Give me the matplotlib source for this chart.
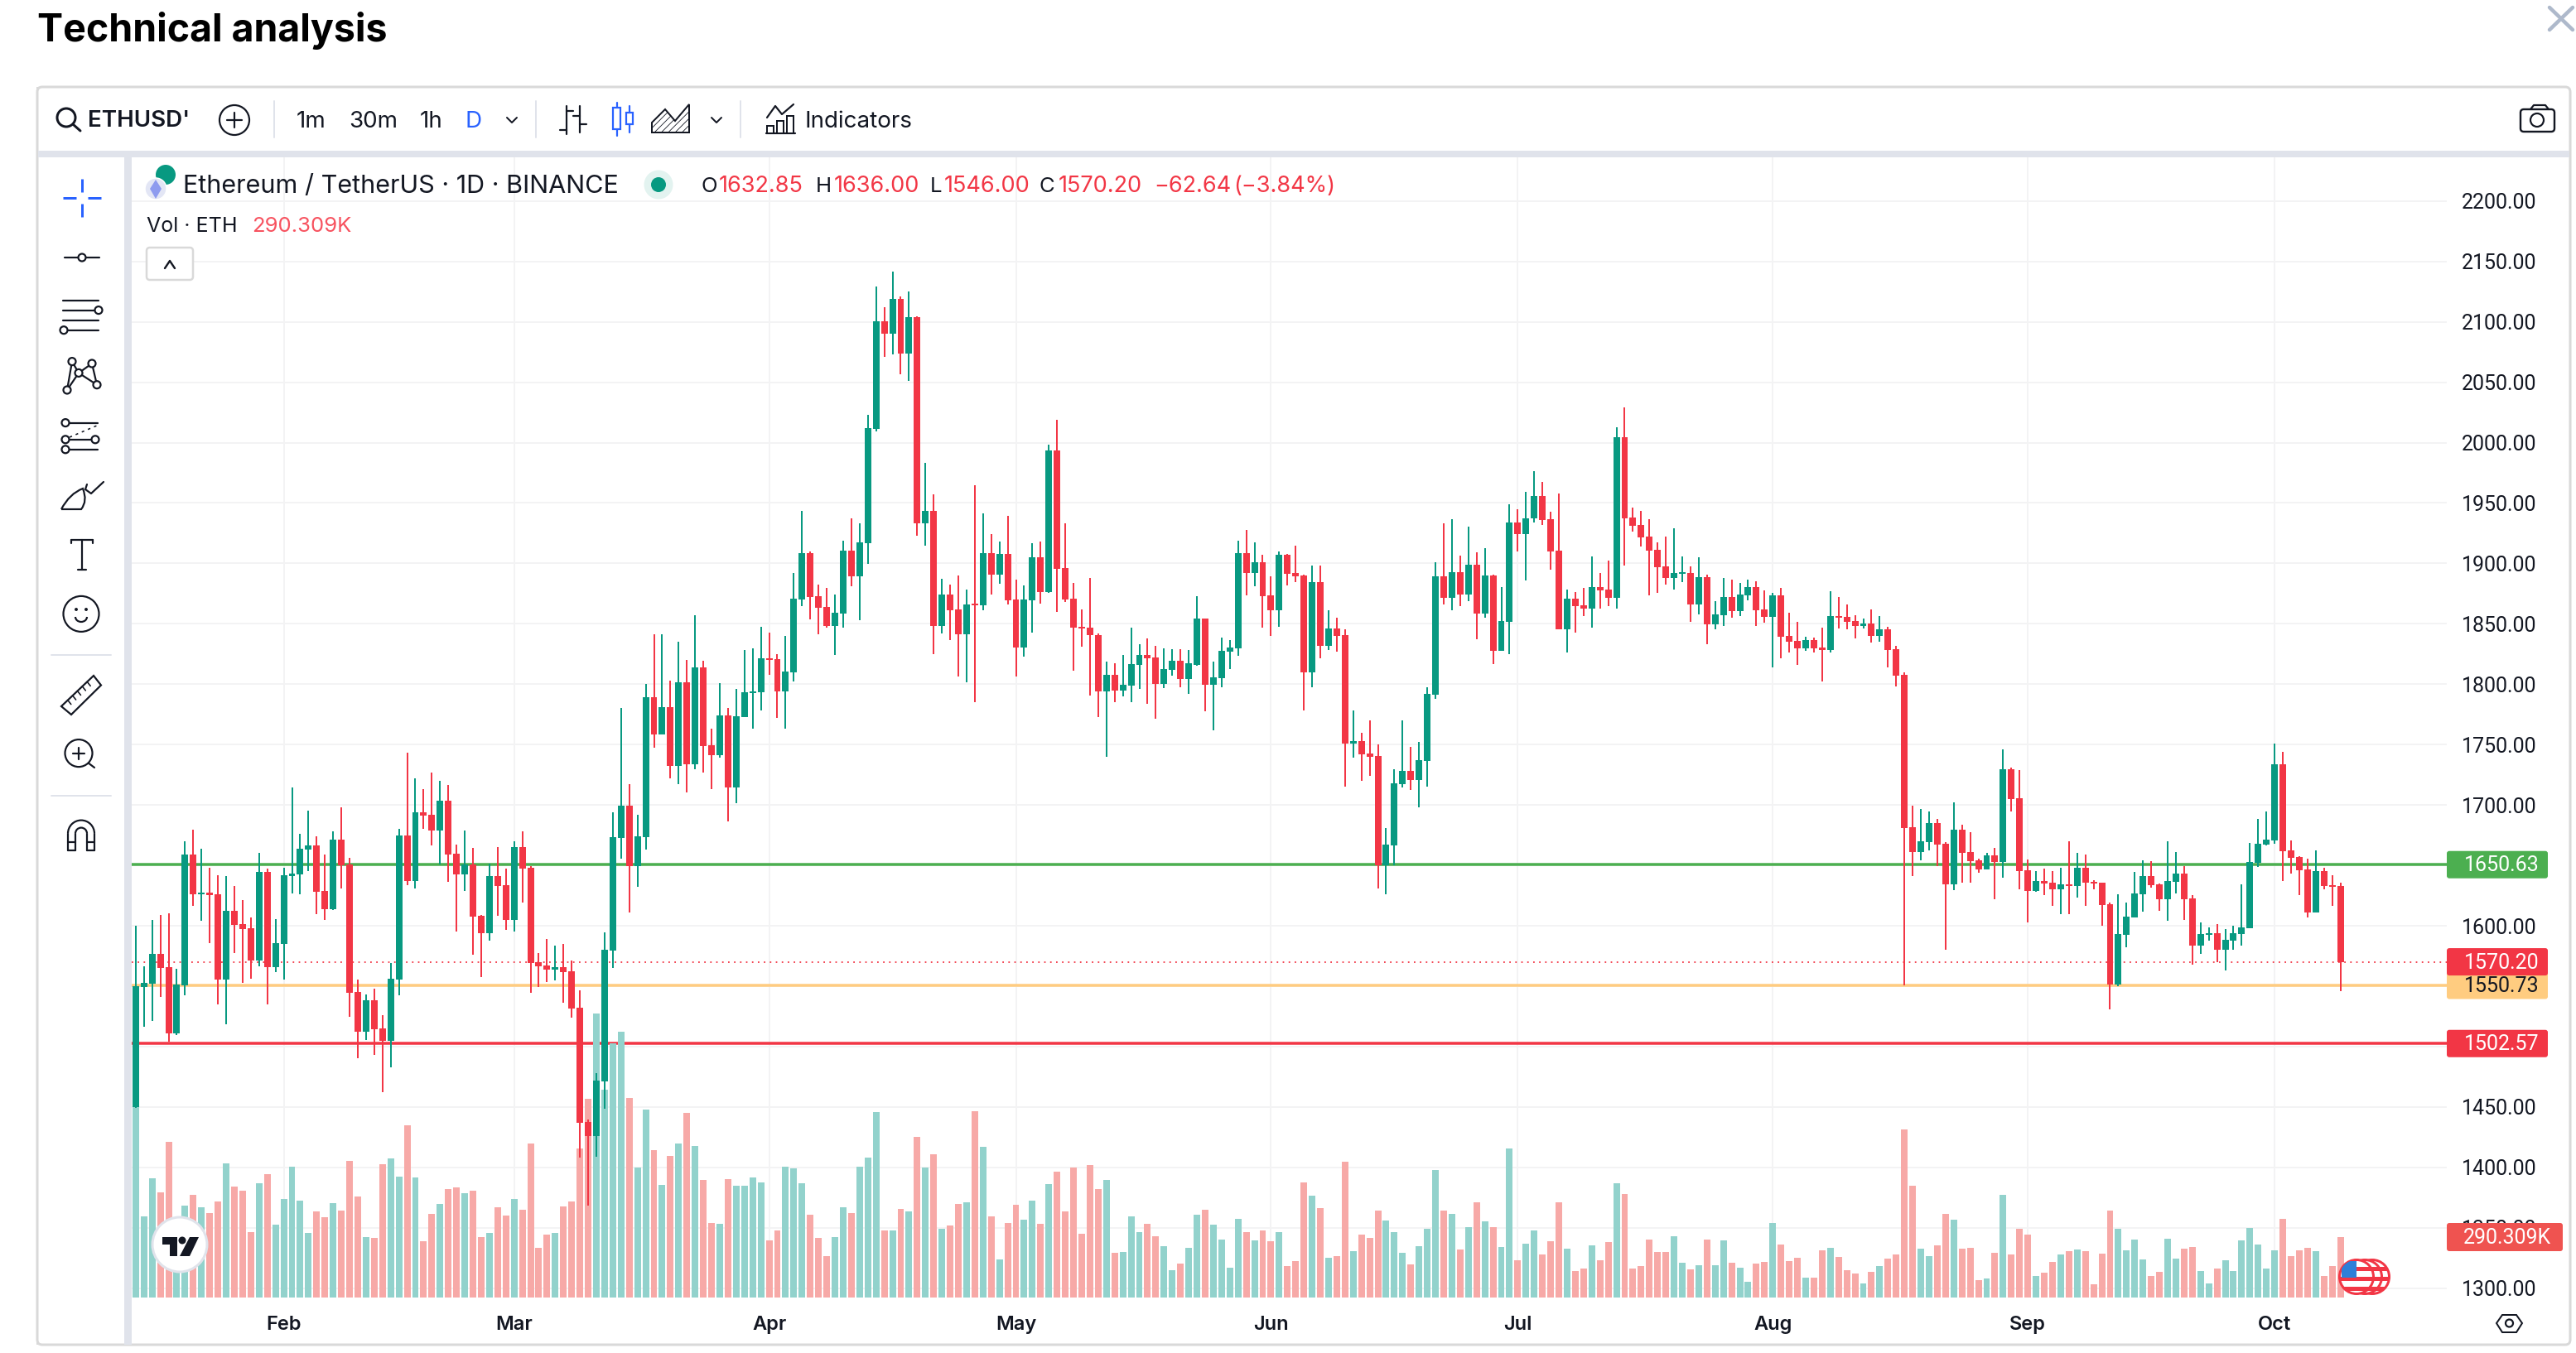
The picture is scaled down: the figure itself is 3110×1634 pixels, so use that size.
import numpy as np
import pandas as pd
import matplotlib
matplotlib.use("Agg")
import matplotlib.pyplot as plt
from matplotlib.patches import Circle, Rectangle, Polygon, FancyBboxPatch, Arc, PathPatch
from matplotlib.path import Path

W, H = 3110, 1634
plt.rcParams['font.family'] = ['Inter', 'DejaVu Sans']

# ---------- data ----------
direction = ("GGGRRGGRGR" "RGRRRGRGGG" "GGRRGRRRGR" "RGGRGRRGRR" "GRRGRRGRRR" "RGRRRRGGGG"
             "RGGRGRGRGR" "RGRGGGGRRG" "GGRRRGGRGG" "GRGRGRGRGR" "RGRGRGRRGG" "RGRRRRRRGR"
             "GGGRRGGRGG" "RGGGGRGRRG" "RRRGRGRRGR" "RRGGGRGGGR" "GRGRGRGGRG" "GRRRGRRGRR"
             "GRRRRRRGGR" "GRGGRGGRRG" "RRRGRRGRRR" "GRGRRRRGGR" "RGRRRGRGRR" "RGRRGRGRRR"
             "RGGGGRRGGR" "RGGRGGGGGG" "GRRRRGRRR")
highs = [1600.1,1566.5,1604.9,1609,1610.3,1564.4,1670,1679.6,1663.8,1648,
 1641.9,1641.2,1633,1621.3,1606.9,1660.4,1647.4,1605.5,1648,1714.5,
 1676.2,1695.3,1674.1,1659,1678.2,1698.1,1656.3,1555.5,1543.2,1548,
 1526,1569.2,1680.3,1743.3,1722.1,1713.2,1726.9,1720,1716.6,1667.2,
 1678.9,1664.5,1609,1651.5,1665.2,1647.4,1670,1678.2,1649.4,1577.4,
 1589.1,1583.6,1585,1571.3,1546.6,1439.6,1478,1594.6,1694,1780.3,
 1717.3,1691.9,1800.2,1841.2,1841.2,1803,1835.1,1820.1,1857.1,1819.2,
 1763.2,1800.8,1780.3,1795.9,1828.4,1829.6,1847.4,1842.8,1824.7,1840,
 1892,1943.4,1909.8,1882.5,1879.8,1874.3,1918.6,1937.3,1933,2023,
 2129.2,2112,2141.4,2120.9,2125.2,2104.4,1983.2,1957.2,1887.1,1882.5,
 1889.9,1878.3,1964.6,1941.3,1924.2,1918,1939.2,1886.5,1881.6,1916.8,
 1918,1998.2,2018.7,1933,1883.8,1861.8,1887.9,1841.9,1818.6,1817.2,
 1824,1846.7,1833.1,1837.9,1831.7,1829.7,1828.8,1828.8,1828.3,1872.9,
 1854.4,1818.6,1838.5,1836.5,1918.6,1927.7,1917.2,1907,1889.4,1909.8,
 1908.1,1914.7,1890.5,1898.2,1898.2,1861.2,1855,1845.3,1778.3,1759.8,
 1770,1750.1,1680.8,1729.7,1770,1748.1,1752.1,1797.3,1901,1933.1,
 1936.5,1906.4,1930.3,1909.3,1912.7,1890.5,1880.3,1948.8,1944.8,1959.3,
 1976.3,1967.5,1942.8,1957.9,1878.3,1876.3,1879.8,1905.7,1892.1,1902.3,
 2012.7,2029.3,1946.1,1943.5,1936.7,1917.5,1922.2,1929.1,1905.7,1897.6,
 1905.2,1890.8,1868.7,1887.9,1886.6,1884,1886.6,1885.3,1877.7,1875.6,
 1879.8,1859.3,1851.7,1839.4,1838.6,1846.7,1876.9,1872.1,1866.1,1857.2,
 1854.3,1861.9,1856.4,1847.5,1831.8,1809.7,1699.6,1696.7,1694.6,1688.5,
 1669.3,1702.1,1683.6,1677.5,1655.5,1660.3,1664.4,1746,1731,1728.9,
 1654.8,1645.2,1647.3,1645.2,1648,1669.9,1660.3,1659,1637.7,1635.6,
 1619.2,1626,1619.2,1644.6,1654.1,1653.5,1634.9,1669.9,1661,1649.6,
 1625.4,1602.7,1598.6,1601.4,1597.2,1600,1634.3,1668.5,1688.4,1694.6,
 1750.8,1743.9,1670.6,1657.6,1655.5,1662.4,1648,1641.8,1636]
tops = [1550,1552.8,1576.8,1576.8,1565.8,1551.4,1659,1659,1627.5,1627.5,
 1626.1,1612.4,1612.4,1601.4,1598,1644.6,1644.6,1585.7,1641.9,1643.2,
 1663.8,1666.6,1666.6,1628.9,1671.4,1671.4,1650.8,1545.2,1538.4,1538.4,
 1515.1,1556.2,1674.8,1674.8,1694,1694,1691.9,1703.6,1703.6,1659.7,
 1650.8,1650.8,1608.3,1641.2,1641.2,1633.6,1665.2,1665.2,1648,1569.9,
 1567.2,1565.8,1565.8,1562.4,1532.2,1437.6,1471.9,1580.2,1673.4,1699.4,
 1699.4,1674.1,1789.2,1789.2,1780.9,1780.9,1801.4,1801.4,1814,1814,
 1749.4,1774.2,1774.2,1773.3,1793.2,1794.1,1821.3,1821.3,1820.7,1810.3,
 1870.6,1908.6,1908.6,1872.7,1863.9,1859,1910.4,1910.4,1917.4,2012,
 2100.4,2100.4,2118.8,2118.8,2103.8,2103.8,1943.4,1943.4,1874.3,1874.3,
 1861.7,1866,1866.3,1908.6,1908.6,1907.6,1907.6,1870,1870,1904.9,
 1904.9,1993.3,1993.3,1896,1870.6,1847.3,1846.7,1840.5,1807.8,1807.8,
 1799.6,1816.6,1824,1824,1822,1812.3,1819.5,1819.5,1817.2,1854.4,
 1854.4,1805.5,1827.4,1830.2,1908.4,1908.4,1901,1901,1873.5,1907,
 1907,1891.9,1889.9,1884.5,1884.5,1846.2,1846.2,1840.5,1753,1753,
 1742.4,1740.4,1667.1,1717.7,1728.2,1728.2,1737,1791.9,1889.4,1889.4,
 1892.8,1892.8,1898.7,1898.7,1889.9,1889.9,1852.1,1933.7,1933.7,1937.1,
 1955.9,1955.9,1936.5,1910.4,1870.7,1870.8,1865.3,1880.5,1880.5,1878.4,
 2004.6,2004.6,1938,1932,1922.3,1911.2,1897.6,1892.1,1892.6,1892.1,
 1888.7,1888.7,1857.7,1872.1,1872.1,1874.2,1880.5,1880.5,1861.9,1873.5,
 1873.5,1839.9,1836,1836.5,1836.5,1830.4,1856.4,1856.4,1855.6,1852.2,
 1850.4,1850.4,1845.4,1845.4,1829.1,1807.9,1681.7,1669.9,1685.1,1685.1,
 1667.9,1679.5,1679.5,1661,1654.2,1658.3,1658.3,1729.6,1729.6,1705.6,
 1645.9,1637,1637,1635.6,1634.3,1634.3,1648,1648,1636.3,1635.6,
 1617.8,1593.1,1607.6,1626.7,1641.1,1641.1,1634.3,1637,1643.2,1643.2,
 1622.6,1593.1,1593.8,1593.8,1588.3,1593.8,1598.6,1652.8,1667.9,1671.3,
 1733.7,1733.7,1662.4,1656.9,1646.6,1645.2,1645.2,1633.6,1632.85]
bottoms = [1450,1549.3,1552.1,1565.1,1510.9,1510.9,1550.7,1626.1,1626.1,1625.4,
 1555.5,1555.5,1600.7,1597.3,1571.3,1571.3,1565.8,1565.8,1585,1641.2,
 1642.6,1663.1,1628.2,1613.8,1613.8,1650.1,1544.5,1512.3,1512.3,1514.4,
 1504.8,1504.8,1555.5,1637.1,1637.1,1691.2,1678.9,1678.9,1659,1642.6,
 1642.6,1607.6,1593.9,1593.9,1633,1604.9,1604.9,1647.4,1569.2,1566.5,
 1563.7,1563.7,1561.7,1531.5,1437.1,1426.1,1426.1,1471.4,1579.6,1672.9,
 1649.4,1649.4,1673.4,1758.3,1758.3,1732.3,1732.3,1733.5,1733.5,1748.8,
 1741.2,1741.2,1714.6,1714.6,1772.7,1792.9,1793.2,1820.1,1794.1,1794.1,
 1809.7,1870,1872.1,1863.2,1848.3,1848.3,1858.4,1889.3,1889.3,1916.8,
 2011.4,2090,2090,2073.8,2073.8,1933,1933,1848.3,1848.3,1861.1,
 1841.2,1841.2,1865.1,1865.4,1890.5,1890.5,1869.7,1830.2,1830.2,1869.7,
 1876.1,1876.1,1895.4,1870,1846.7,1846.2,1840.5,1793.9,1793.9,1795,
 1795,1798.7,1815.8,1821.5,1800.1,1800.1,1811.8,1804.1,1804.1,1816.3,
 1799.6,1799.6,1805,1826.8,1829.7,1891.9,1891.9,1872.9,1861.2,1861.2,
 1891.4,1889.4,1809.8,1809.8,1831.7,1831.7,1839.9,1750.7,1750.7,1741.9,
 1740.2,1650.1,1650.1,1666.5,1717.1,1720.6,1720.6,1736.5,1791.3,1871.5,
 1871.5,1874.3,1874.3,1858.4,1858.4,1827.4,1827.4,1851.6,1924.3,1924.3,
 1937.1,1936,1909.8,1845.3,1845.3,1864.5,1862.7,1862.7,1877.7,1871.6,
 1871.6,1937.2,1931.2,1921.5,1910.7,1896.8,1887.9,1887.9,1891.3,1866.1,
 1866.1,1849.6,1849.6,1857.2,1860.6,1860.6,1873.5,1861.1,1855.6,1855.6,
 1839.4,1835.2,1829.7,1829.7,1829.7,1828.3,1828.3,1855.1,1851.7,1848.3,
 1848.3,1839.9,1839.9,1828.3,1807.1,1681,1661.2,1661.2,1669.4,1667.3,
 1634.3,1634.3,1660.3,1653.5,1646.6,1646.6,1652.8,1652.8,1704.9,1645.2,
 1628.8,1628.8,1634.9,1630.2,1630.2,1632.9,1632.9,1635.6,1634.9,1617.1,
 1551.3,1551.3,1592.5,1606.9,1626,1633.6,1621.9,1621.9,1636.3,1621.9,
 1583.5,1583.5,1592.5,1580.1,1580.1,1587.7,1593.1,1598,1652.1,1667.2,
 1670.6,1661.7,1656.2,1645.9,1611,1611,1632.9,1632.2,1570.2]
lows = [1449,1516.4,1521.2,1541.1,1503.9,1509.6,1542.5,1616.5,1604.2,1585.7,
 1534.9,1518.5,1577.4,1552.8,1556.2,1566.5,1534.9,1561.7,1555.5,1626.8,
 1626.1,1645.3,1609.7,1604.9,1613.1,1630.9,1524.7,1490.4,1505.5,1493.1,
 1462.3,1482.8,1542.5,1633.6,1630.9,1680.3,1666.6,1650.8,1636.4,1595.3,
 1628.9,1576.1,1557.6,1587.7,1608.3,1596.6,1595.3,1619.3,1544.5,1549.3,
 1553.4,1554.8,1536.3,1524,1408.3,1368.3,1409,1448.5,1565.2,1655.7,
 1611,1632.3,1663.2,1747.3,1758.3,1721.9,1717.3,1710.3,1729.6,1726.8,
 1713,1739,1686.4,1701.4,1772.7,1763.2,1778.2,1807.6,1772,1763.2,
 1802,1864.5,1853.5,1841.2,1846.7,1824.1,1846.7,1881,1852.9,1899.7,
 2009.2,2071,2072.9,2056.7,2051.1,1922.9,1914.7,1824.7,1841.8,1836.3,
 1806.4,1801.5,1784.9,1861.1,1874.3,1883.2,1866,1806.4,1822.9,1842.8,
 1866.6,1875.5,1859.9,1868.2,1811.2,1831.1,1790.5,1772.6,1739.9,1785.1,
 1789.9,1785.1,1795.9,1783.6,1771.4,1796.7,1806.9,1797.3,1791.9,1815.2,
 1777.4,1761.8,1797.3,1812.3,1823.4,1873.5,1881.1,1846.7,1839.9,1847.3,
 1881.7,1884.5,1778.3,1797.3,1821.5,1828.3,1826.8,1715.2,1739,1720,
 1724,1630.7,1625.9,1650.1,1714.3,1712.3,1698.1,1715.2,1787.9,1866.1,
 1861.2,1864.6,1868.9,1837.1,1855,1816.6,1827.4,1824.9,1909.8,1886,
 1933.7,1931.7,1894.8,1845.3,1826.3,1842.8,1856.4,1846.7,1862.7,1864.5,
 1862.7,1898.1,1926.4,1914.1,1873.5,1875.6,1882.4,1878.4,1884.5,1851.7,
 1857.7,1833.1,1845.4,1848.3,1855.1,1856.4,1869.5,1848.3,1850.9,1813.9,
 1821.5,1826.3,1816,1827.6,1826.3,1802.4,1826.3,1846.2,1845.4,1838.1,
 1846.2,1834.4,1835.2,1813.9,1798.2,1550.5,1641.3,1654.2,1662.6,1649.7,
 1580.1,1629.5,1635.6,1635.6,1643.9,1646.6,1621.9,1639.8,1694.6,1630.2,
 1602.7,1628.1,1625.4,1616.4,1609.6,1609.6,1623.3,1616.4,1630.2,1600,
 1530.8,1549.9,1582.2,1606.9,1611.6,1631.5,1612.3,1604.1,1626.7,1604.8,
 1567.8,1576.7,1587.7,1569.8,1563,1580.1,1583.5,1598,1648.7,1666.5,
 1667.9,1637,1643.2,1625.4,1606.9,1611,1630.2,1616.4,1546]
volumes_k = [933,391,575,507,751,347,443,495,435,407,
 463,647,535,515,315,551,595,351,475,631,
 467,311,415,387,455,419,659,487,291,287,
 643,671,583,831,579,271,403,451,523,531,
 503,515,291,311,435,395,475,423,743,239,
 303,311,439,463,719,959,1371,1003,1227,1283,
 963,627,907,711,543,683,743,891,731,567,
 359,355,571,539,539,579,555,275,323,631,
 623,551,399,287,199,291,435,407,631,675,
 895,323,323,427,415,775,627,691,331,347,
 451,459,899,727,391,183,359,447,375,467,
 355,547,607,415,627,307,639,523,567,215,
 219,391,315,355,295,247,131,163,239,399,
 423,351,279,143,379,315,275,323,271,315,
 151,175,555,491,431,191,199,655,223,303,
 287,419,371,315,215,159,247,331,615,419,
 403,231,339,459,367,339,243,719,179,259,
 323,207,271,459,235,127,139,251,179,267,
 551,499,139,151,279,219,219,295,167,135,
 155,279,155,275,167,143,75,163,171,359,
 255,175,191,95,95,227,239,195,131,115,
 67,123,151,187,207,811,539,235,199,251,
 403,375,235,239,83,91,215,495,207,331,
 303,103,119,171,207,223,231,223,63,211,
 419,331,227,279,183,103,123,283,187,235,
 243,127,67,139,179,127,275,335,255,139,
 227,379,199,227,239,223,103,151,290.309]
dates = pd.date_range("2023-01-14", "2023-10-09", freq="D")
month_labels = ["Feb", "Mar", "Apr", "May", "Jun", "Jul", "Aug", "Sep", "Oct"]
month_starts = pd.date_range("2023-02-01", "2023-10-01", freq="MS")
price_ticks = np.arange(1300, 2201, 50)
support_green, support_orange, support_red, last_close = 1650.63, 1550.73, 1502.57, 1570.20

# ---------- colours ----------
GREEN, RED = "#089981", "#F23645"
VOLG, VOLR = "#92D2CC", "#F7A9A7"
INK = "#131722"
GRID = "#F3F3F4"
BAND = "#E0E3EB"
BORDER = "#D9D9D9"

fig = plt.figure(figsize=(W / 100, H / 100), dpi=100, facecolor="white")
PX = 0.72

# plot area, in pixels
L, R, T, B = 159.0, 2954.0, 190.0, 1567.0
ax = fig.add_axes([L / W, 1 - B / H, (R - L) / W, (B - T) / H])
PER_DAY = 9.932
X0 = 163.8
idx = np.arange(len(dates))
ax.set_xlim((L - X0) / PER_DAY, (R - X0) / PER_DAY)
PPU = 1.459
Y2200 = 242.7
ax.set_ylim(2200 - (B - Y2200) / PPU, 2200 - (T - Y2200) / PPU)
def py(p):
    return Y2200 + (2200 - p) * PPU

for s in ax.spines.values():
    s.set_visible(False)
ax.set_axisbelow(True)
ax.grid(True, color=GRID, lw=2 * PX)

# horizontal levels
ax.axhline(support_green, color="#4CAF50", lw=3.5 * PX, zorder=2)
ax.axhline(support_orange, color="#FFCC80", lw=3.5 * PX, zorder=2)
ax.axhline(support_red, color=RED, lw=3.5 * PX, zorder=2)
ax.axhline(last_close, color=RED, lw=1.8 * PX, ls=(0, (1, 3)), zorder=2)

# volume pane
axv = ax.twinx()
axv.patch.set_visible(False)
for s in axv.spines.values():
    s.set_visible(False)
axv.set_ylim(0, 290.309 * (B - T) / 72.7)
axv.set_yticks([])
axv.bar(idx, volumes_k, width=0.8,
        color=[VOLG if d == "G" else VOLR for d in direction], linewidth=0, zorder=3)

# candles on a third layer
axc = ax.twinx()
axc.patch.set_visible(False)
for s in axc.spines.values():
    s.set_visible(False)
axc.set_ylim(ax.get_ylim())
axc.set_yticks([])
ccol = [GREEN if d == "G" else RED for d in direction]
axc.vlines(idx, lows, highs, colors=ccol, lw=2 * PX, zorder=4)
body = np.maximum(np.array(tops) - np.array(bottoms), 1.4)
axc.bar(idx, body, bottom=bottoms, width=0.8, color=ccol, linewidth=0, zorder=5)

# axes ticks (set after twinx, which would move them back to the left)
ax.yaxis.tick_right()
ax.set_yticks(price_ticks)
ax.set_yticklabels([f"{p:.2f}" for p in price_ticks], fontsize=18, color=INK,
                   family=["Roboto", "DejaVu Sans"])
ax.tick_params(axis="y", length=0, pad=18 * PX)
xt = [(d - dates[0]).days for d in month_starts]
ax.set_xticks(xt)
ax.set_xticklabels(month_labels, fontsize=17, color=INK, fontweight="semibold")
ax.tick_params(axis="x", length=0, pad=22 * PX)

# ---------- overlay in pixel coordinates for the surrounding interface ----------
ui = fig.add_axes([0, 0, 1, 1], zorder=20)
ui.set_xlim(0, W)
ui.set_ylim(H, 0)
ui.axis("off")
ui.patch.set_visible(False)

def line(xs, ys, c=INK, lw=2.2, **k):
    ui.plot(xs, ys, color=c, lw=lw * PX, solid_capstyle=k.pop("cap", "round"), **k)
def circ(x, y, r, fc="white", ec=INK, lw=2.2, z=3):
    p = Circle((x, y), r, fc=fc, ec=ec, lw=lw * PX, zorder=z)
    ui.add_patch(p)
    return p
def rect(x0, y0, x1, y1, fc, z=1):
    ui.add_patch(Rectangle((x0, y0), x1 - x0, y1 - y0, fc=fc, ec="none", zorder=z))
def txt(x, y, s, size=18, c=INK, ha="left", va="center", w="normal", z=6, fam=None):
    ui.text(x, y, s, fontsize=size, color=c, ha=ha, va=va, fontweight=w, zorder=z,
            **({"family": fam} if fam else {}))

# frame
ui.add_patch(FancyBboxPatch((45, 105), 3058, 1519, boxstyle="round,pad=0,rounding_size=6",
                            fc="none", ec=BORDER, lw=3 * PX))
rect(46, 182, 3102, 190, BAND)
rect(150, 190, 159, 1624, BAND)
rect(44, 105, 46, 1624, BORDER)

txt(45, 37, "Technical analysis", size=33.5, c="black", w="bold")
line([3078, 3106], [9, 36], c="#AEB9CB", lw=4.5)
line([3078, 3106], [36, 9], c="#AEB9CB", lw=4.5)

# toolbar
circ(80, 142, 11, fc="none", lw=3)
line([88, 97], [150, 158], lw=3)
txt(106, 146, "ETHUSD'", size=20, w="semibold")
circ(283, 145, 18, fc="none")
line([274, 292], [145, 145], zorder=5); line([283, 283], [136, 154], zorder=5)
for x in (331, 647, 894):
    line([x, x], [122, 166], c=BAND, lw=2)
txt(358, 147, "1m", size=20); txt(421, 147, "30m", size=20); txt(507, 147, "1h", size=20)
txt(562, 147, "D", size=20, c="#2962FF")
for x in (618, 865):
    line([x - 6, x, x + 6], [142, 148, 142], lw=2)
# bar icon
line([684, 684], [128, 162]); line([676, 684], [157, 157]); line([684, 692], [134, 134])
line([700, 700], [128, 160]); line([692, 700], [140, 140]); line([700, 708], [150, 150])
# candle icon
BL = "#2962FF"
line([745, 745], [124, 164], c=BL)
ui.add_patch(Rectangle((740, 130), 9, 26, fc="white", ec=BL, lw=2.2 * PX, zorder=3))
line([760, 760], [128, 160], c=BL)
ui.add_patch(Rectangle((756, 136), 8, 14, fc="white", ec=BL, lw=2.2 * PX, zorder=3))
# area icon
plt.rcParams['hatch.linewidth'] = 0.6
ui.add_patch(Polygon([(787, 160), (787, 148), (803, 132), (815, 146), (832, 126), (832, 160)],
                     fc="white", ec=INK, lw=2 * PX, hatch="////", zorder=3))
# indicators icon
line([926, 936, 944, 958], [142, 128, 138, 126])
line([925, 960], [161, 161])
for x0, y0 in ((926, 152), (938, 146), (950, 140)):
    ui.add_patch(Rectangle((x0, y0), 8, 161 - y0, fc="white", ec=INK, lw=2 * PX, zorder=3))
txt(971, 147, "Indicators", size=20)
# camera icon
ui.add_patch(FancyBboxPatch((3043, 132), 41, 27, boxstyle="round,pad=0,rounding_size=4",
                            fc="white", ec=INK, lw=2.4 * PX))
line([3055, 3059, 3073, 3077], [132, 127, 127, 132])
circ(3063, 145, 8, fc="white")

# legend
circ(200, 211, 12, fc=GREEN, ec="none", lw=0)
circ(188, 228, 13, fc="#E3E6F5", ec="white", lw=1.5, z=4)
ui.add_patch(Polygon([(188, 217), (195, 228), (188, 240), (181, 228)], fc="#8E9BEF", ec="none", zorder=5))
txt(221, 225, "Ethereum / TetherUS · 1D · BINANCE", size=22)
circ(795, 223, 17.5, fc="#E3F3F0", ec="none", lw=0)
circ(795, 223, 9, fc=GREEN, ec="none", lw=0, z=4)
for x, s, c in ((846, "O", INK), (868, "1632.85", RED), (985, "H", INK), (1007, "1636.00", RED),
                (1123, "L", INK), (1140, "1546.00", RED), (1254, "C", INK), (1278, "1570.20", RED),
                (1393, "−62.64", RED), (1489, "(−3.84%)", RED)):
    txt(x, 225, s, size=19.5 if c == RED else 18.5, c=c)
txt(177, 273, "Vol · ETH", size=18)
txt(304, 273, "290.309K", size=18.5, c="#F7525F")
ui.add_patch(FancyBboxPatch((177, 299), 56, 39, boxstyle="round,pad=0,rounding_size=4",
                            fc="white", ec=BORDER, lw=2.5 * PX, zorder=4))
line([199, 205, 211], [324, 315, 324], lw=2.4, zorder=5)

# sidebar tools
c0 = "#2962FF"
line([76, 92], [238.6, 238.6], c=c0, lw=3, cap="butt"); line([106, 122], [238.6, 238.6], c=c0, lw=3, cap="butt")
line([99, 99], [216, 232], c=c0, lw=3, cap="butt"); line([99, 99], [246, 262], c=c0, lw=3, cap="butt")
line([78, 120], [311, 311]); circ(99, 311, 4.5)
for y in (362.5, 374.6, 386.7, 398.7):
    line([76, 119], [y, y])
circ(119, 374.6, 4.5); circ(77, 398.7, 4.5)
pts = {"a": (87, 436.6), "b": (111, 439), "c": (95, 450.4), "d": (81, 471), "e": (117, 464.7)}
for u, v in ("ad", "ac", "dc", "cb", "ce", "be"):
    line([pts[u][0], pts[v][0]], [pts[u][1], pts[v][1]])
for p in pts.values():
    circ(p[0], p[1], 4.5)
line([79, 118], [510.6, 510.6]); line([79, 115], [530.8, 530.8]); line([79, 118], [542.8, 542.8])
line([84, 117], [528, 514], lw=1.6, ls=(0, (2, 3)))
for p in ((79, 510.6), (79, 530.8), (115, 530.8), (79, 542.8)):
    circ(p[0], p[1], 4.5)
ui.add_patch(PathPatch(Path([(74, 615), (84, 596), (100, 590), (106, 605), (98, 615), (74, 615)],
                            [Path.MOVETO, Path.CURVE3, Path.CURVE3, Path.CURVE3, Path.CURVE3, Path.LINETO]),
                       fc="white", ec=INK, lw=2.2 * PX, zorder=3))
line([105, 103, 110, 125], [585, 591, 596, 582])
line([86, 112], [652.4, 652.4]); line([99, 99], [652.4, 687.5]); line([94, 104], [687.5, 687.5])
line([86, 86], [652, 656]); line([112, 112], [652, 656])
circ(98, 741.4, 21.5, fc="white")
circ(92, 736, 1.2, fc=INK, lw=1.5); circ(104, 736, 1.2, fc=INK, lw=1.5)
ui.add_patch(Arc((98, 745), 14, 12, theta1=0, theta2=180, ec=INK, lw=2.2 * PX, zorder=4))
for y in (791, 960.7):
    line([62, 134], [y, y], c=BAND, lw=2)
ui.add_patch(Polygon([(74, 853), (113, 816), (122, 827.5), (86, 863)], fc="white", ec=INK, lw=2.2 * PX, zorder=3))
for t in (0.2, 0.35, 0.5, 0.65, 0.8):
    xa, ya = 74 + 39 * t, 853 - 37 * t
    line([xa, xa + 4], [ya, ya + 5], lw=1.6, zorder=4)
circ(95, 909.6, 16.5, fc="white")
line([88, 102], [909.6, 909.6], zorder=5); line([95, 95], [902.6, 916.6], zorder=5); line([106, 114], [921, 927])
ui.add_patch(Arc((98, 1006.6), 32, 32, theta1=180, theta2=360, ec=INK, lw=2.2 * PX))
ui.add_patch(Arc((98, 1006.6), 14, 14, theta1=180, theta2=360, ec=INK, lw=2.2 * PX))
for x in (82, 91, 105, 114):
    line([x, x], [1006.6, 1027])
line([82, 91], [1027, 1027]); line([105, 114], [1027, 1027])
line([82, 91], [1017, 1017]); line([105, 114], [1017, 1017])

# price tags
def tag(price, s, bg, fg="white", z=4):
    y = py(price)
    ui.add_patch(FancyBboxPatch((2954, y - 16.5), 122, 33, boxstyle="round,pad=0,rounding_size=3",
                                fc=bg, ec="none", zorder=z))
    txt(3020, y + 1, s, size=18, c=fg, ha="center", z=z + 1, fam=["Roboto", "DejaVu Sans"])
tag(support_green, "1650.63", "#4CAF50")
tag(support_orange, "1550.73", "#FFCC80", INK)
tag(last_close, "1570.20", RED, z=6)
tag(support_red, "1502.57", RED)
ui.add_patch(FancyBboxPatch((2954, 1477), 140, 34, boxstyle="round,pad=0,rounding_size=3",
                            fc="#EF5350", ec="none", zorder=4))
txt(3027, 1495, "290.309K", size=18, c="white", ha="center", z=5, fam=["Roboto", "DejaVu Sans"])

# settings glyph
ui.add_patch(Polygon([(3021, 1588), (3038, 1588), (3045, 1598), (3038, 1609), (3021, 1609), (3014, 1598)],
                     fc="white", ec=INK, lw=2 * PX))
circ(3029.5, 1598, 4.5, fc="white")

# watermark logo
circ(217, 1503, 33, fc="white", ec="#E0E3EB", lw=3, z=7)
ui.add_patch(Polygon([(196, 1494), (214, 1494), (214, 1517), (205, 1517), (205, 1503), (196, 1503)],
                     fc=INK, ec="none", zorder=8))
circ(220, 1498, 4.5, fc=INK, ec="none", lw=0, z=8)
ui.add_patch(Polygon([(229, 1494), (240, 1494), (229, 1517), (217, 1517)], fc=INK, ec="none", zorder=8))

# economic event markers
for k, cx in enumerate((2864, 2855, 2845)):
    z = 10 + k * 3
    c = circ(cx, 1542, 20.5, fc="white", ec="#F23645", lw=3, z=z)
    for j in range(3):
        r = Rectangle((cx - 21, 1530 + j * 12), 42, 5, fc="#F23645", ec="none", zorder=z + 1)
        ui.add_patch(r); r.set_clip_path(c)
    r = Rectangle((cx - 18, 1523), 18, 20, fc="#2E7FD8", ec="none", zorder=z + 2)
    ui.add_patch(r); r.set_clip_path(c)

fig.savefig("out.png", dpi=100)
